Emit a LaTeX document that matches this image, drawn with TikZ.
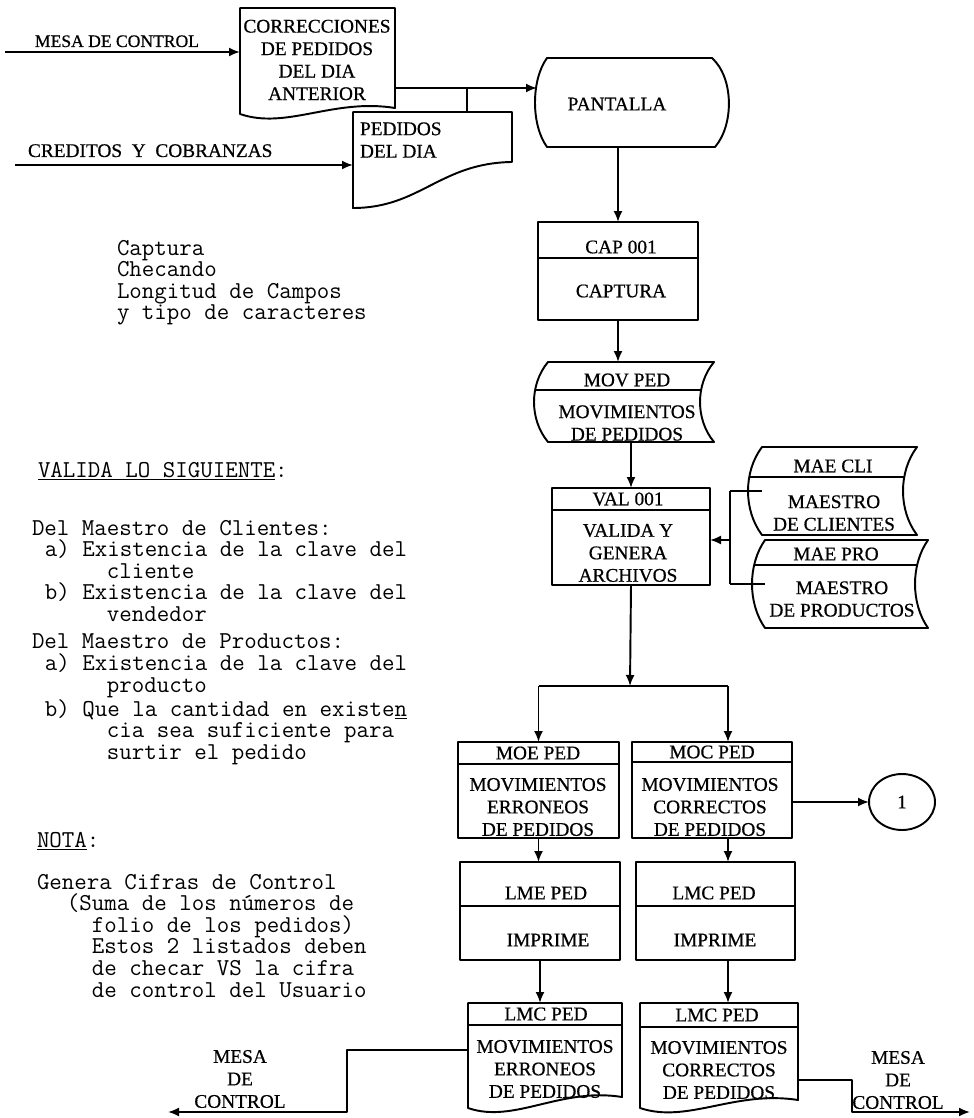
\documentclass[tikz,border=0pt]{standalone}
\usepackage{fontspec}
\setmainfont{Liberation Serif}
\usetikzlibrary{arrows.meta,calc,shapes.geometric}

\tikzset{
  every node/.style={inner sep=0pt, outer sep=0pt},
  lbl/.style={font=\fontsize{11}{12.8}\selectfont\addfontfeature{FakeBold=0.6}, align=center},
  note/.style={font=\ttfamily\fontsize{13.8}{12.3}\selectfont\addfontfeature{FakeBold=0.6}, align=left, anchor=north west},
  arr/.style={-{Latex[length=2.2mm,width=1.8mm]}},
}

% invisible rectangular node spanning a region (left, top, right, bottom)
\newcommand\RegionNode[5]{%
  \node[minimum width={(#4-#2)*0.02cm}, minimum height={(#5-#3)*0.02cm}]
    (#1) at ({(#2+#4)/2},{(#3+#5)/2}) {};%
}

% document symbol: straight top and sides, wavy foot
\newcommand\DocShape[6]{% name, left, top, right, left foot, right foot
  \RegionNode{#1}{#2}{#3}{#4}{#6}
  \draw (#2,#5) -- (#2,#3) -- (#4,#3) -- (#4,#6)
    .. controls ({#2+0.6*(#4-#2)},{#6-10}) and ({#2+0.3*(#4-#2)},{#5+16}) .. (#2,#5) -- cycle;
}

% on-line storage symbol: convex left side, concave right side, title bar
\newcommand\StoreShape[7]{% name, left, right, top, bottom, bulge, title bar
  \RegionNode{#1}{#2-#6}{#4}{#3}{#5}
  \draw (#2,#4) -- (#3,#4)
    .. controls ({#3-1.333*#6},{#4+0.28*(#5-#4)}) and ({#3-1.333*#6},{#5-0.28*(#5-#4)}) .. (#3,#5)
    -- (#2,#5)
    .. controls ({#2-1.333*#6},{#5-0.28*(#5-#4)}) and ({#2-1.333*#6},{#4+0.28*(#5-#4)}) .. (#2,#4) -- cycle;
  \begin{scope}
    \clip (#2,#4) -- (#3,#4)
      .. controls ({#3-1.333*#6},{#4+0.28*(#5-#4)}) and ({#3-1.333*#6},{#5-0.28*(#5-#4)}) .. (#3,#5)
      -- (#2,#5)
      .. controls ({#2-1.333*#6},{#5-0.28*(#5-#4)}) and ({#2-1.333*#6},{#4+0.28*(#5-#4)}) .. (#2,#4) -- cycle;
    \draw ({#2-#6-5},#7) -- ({#3+5},#7);
  \end{scope}
}

% process box with a title bar at height #6
\newcommand\ProcBox[6]{% name, left, top, right, bottom, title bar
  \node[draw, minimum width={(#4-#2)*0.02cm}, minimum height={(#5-#3)*0.02cm}]
    (#1) at ({(#2+#4)/2},{(#3+#5)/2}) {};
  \draw (#1.west |- 0,#6) -- (#1.east |- 0,#6);
}

\begin{document}
\begin{tikzpicture}[x=0.02cm, y=-0.02cm, line width=1.1pt, line join=round]

\useasboundingbox (0,0) rectangle (973,1118);

% ---------- inputs ----------
\DocShape{corr}{240}{8}{395}{114}{108}
\node[lbl] (corr-t) at (317,60) {CORRECCIONES\\DE PEDIDOS\\DEL DIA\\ANTERIOR};

\RegionNode{ped}{353}{112}{512}{162}
\draw (353,208) -- (353,112) -- (512,112) -- (512,162)
  .. controls (440,163) and (420,208) .. (353,208) -- cycle;
\node[lbl, align=left, anchor=west] (ped-t) at (360,140) {PEDIDOS\\DEL DIA};

\node[lbl, font=\fontsize{10}{12}\selectfont\addfontfeature{FakeBold=0.6}, anchor=base west] (mesa-t) at (35,47) {MESA DE CONTROL};
\coordinate (mesa-in) at (5,52);
\draw[arr] (mesa-in) -- (corr.west |- mesa-in);

\node[lbl, anchor=base west] (cred-t) at (28,157) {CREDITOS\ \ Y\ \ COBRANZAS};
\coordinate (cred-in) at (15,165);
\draw[arr] (cred-in) -- (ped.west |- cred-in);

% ---------- display ----------
\RegionNode{pant}{535}{58}{729}{147}
\draw (547,58) -- (712,58) .. controls (734,78) and (734,125) .. (715,147)
  -- (547,147) .. controls (531,125) and (531,80) .. (547,58) -- cycle;
\node[lbl] (pant-t) at (617,104) {PANTALLA};
\coordinate (pant-in) at (537,88);
\draw[arr] (corr.east |- pant-in) -- (pant-in);
\coordinate (tee) at (467,88);
\draw (tee) -- (tee |- ped.north);

% ---------- capture ----------
\ProcBox{cap}{538}{222}{698}{320}{258}
\node[lbl] (cap-h) at (621,247) {CAP 001};
\node[lbl] (cap-b) at (621,291) {CAPTURA};
\draw[arr] (cap.north |- pant.south) -- (cap.north);

\StoreShape{movped}{548}{714}{362}{442}{14}{390}
\node[lbl] (movped-h) at (627,380) {MOV PED};
\node[lbl] (movped-b) at (627,423) {MOVIMIENTOS\\DE PEDIDOS};
\draw[arr] (cap.south) -- (cap.south |- movped.north);

% ---------- validation ----------
\ProcBox{val}{552}{488}{710}{585}{510}
\node[lbl] (val-h) at (628,499) {VAL 001};
\node[lbl] (val-b) at (628,553) {VALIDA Y\\GENERA\\ARCHIVOS};
\draw[arr] (val.north |- movped.south) -- (val.north);

\StoreShape{maecli}{762}{917}{447}{535}{14}{477}
\node[lbl] (maecli-h) at (833,466) {MAE CLI};
\node[lbl] (maecli-b) at (834,513) {MAESTRO\\DE CLIENTES};

\StoreShape{maepro}{765}{928}{540}{628}{13}{565}
\node[lbl] (maepro-h) at (836,554) {MAE PRO};
\node[lbl] (maepro-b) at (842,599) {MAESTRO\\DE PRODUCTOS};

\coordinate (brk) at (730,540);
\draw[arr] (brk) -- (val.east |- brk);
\draw (brk |- maecli.west) -- (brk |- maepro.west);
\draw (brk |- maecli.west) -- (maecli.west);
\draw (brk |- maepro.west) -- (maepro.west);

% ---------- split into erroneous / correct ----------
\ProcBox{moe}{458}{742}{619}{838}{764}
\node[lbl] (moe-h) at (538,753) {MOE PED};
\node[lbl] (moe-b) at (538,807) {MOVIMIENTOS\\ERRONEOS\\DE PEDIDOS};

\ProcBox{moc}{632}{742}{792}{838}{762}
\node[lbl] (moc-h) at (712,752) {MOC PED};
\node[lbl] (moc-b) at (710,807) {MOVIMIENTOS\\CORRECTOS\\DE PEDIDOS};

\coordinate (split) at (630,686);
\coordinate (splitR) at (728,686);
\draw[arr] (val.south) -- (split);
\draw (moe.north |- split) -- (splitR);
\draw[arr] (moe.north |- split) -- (moe.north);
\draw[arr] (splitR) -- (splitR |- moc.north);

\node[draw, ellipse, minimum width=1.32cm, minimum height=1.12cm, lbl] (one) at (902,802) {1};
\draw[arr] (moc.east |- one.west) -- (one.west);

% ---------- printing ----------
\ProcBox{lme}{460}{862}{620}{960}{906}
\node[lbl] (lme-h) at (546,893) {LME PED};
\node[lbl] (lme-b) at (548,940) {IMPRIME};
\draw[arr] (moe.south) -- (moe.south |- lme.north);

\ProcBox{lmc}{636}{862}{795}{960}{906}
\node[lbl] (lmc-h) at (714,893) {LMC PED};
\node[lbl] (lmc-b) at (715,940) {IMPRIME};
\draw[arr] (splitR |- moc.south) -- (splitR |- lmc.north);

\DocShape{lmce}{468}{1003}{622}{1108}{1097}
\draw (lmce.west |- 0,1025) -- (lmce.east |- 0,1025);
\node[lbl] (lmce-h) at (546,1014) {LMC PED};
\node[lbl] (lmce-b) at (545,1069) {MOVIMIENTOS\\ERRONEOS\\DE PEDIDOS};
\draw[arr] (lme.south) -- (lme.south |- lmce.north);

\DocShape{lmcc}{640}{1003}{798}{1108}{1100}
\draw (lmcc.west |- 0,1027) -- (lmcc.east |- 0,1027);
\node[lbl] (lmcc-h) at (717,1015) {LMC PED};
\node[lbl] (lmcc-b) at (719,1070) {MOVIMIENTOS\\CORRECTOS\\DE PEDIDOS};
\draw[arr] (splitR |- lmc.south) -- (splitR |- lmcc.north);

% ---------- outputs ----------
\coordinate (kR) at (852,1080);
\coordinate (outR) at (970,1112);
\draw[arr] (lmcc.east |- kR) -- (kR) |- (outR);
\node[lbl] (mesaR-t) at (898,1080) {MESA\\DE\\CONTROL};

\coordinate (kL) at (347,1050);
\coordinate (outL) at (168,1112);
\draw[arr] (lmce.west |- kL) -- (kL) |- (outL);
\node[lbl] (mesaL-t) at (240,1079) {MESA\\DE\\CONTROL};

% ---------- notes ----------
\node[note] (n-cap) at (117,240) {Captura\\Checando\\Longitud de Campos\\y tipo de caracteres};

\node[note, anchor=base west] (n-val) at (38,477) {\underline{VALIDA LO SIGUIENTE}:};
\node[note] (n-cli) at (32,520) {Del Maestro de Clientes:\\
\hspace*{0.26cm}a) Existencia de la clave del\\
\hspace*{1.5cm}cliente\\
\hspace*{0.26cm}b) Existencia de la clave del\\
\hspace*{1.5cm}vendedor};
\node[note] (n-pro) at (32,634) {Del Maestro de Productos:\\
\hspace*{0.26cm}a) Existencia de la clave del\\
\hspace*{1.5cm}producto\\
\hspace*{0.26cm}b) Que la cantidad en existe\underline{n}\\
\hspace*{1.5cm}cia sea suficiente para\\
\hspace*{1.5cm}surtir el pedido};

\node[note, anchor=base west] (n-nota) at (37,847) {\underline{NOTA}:};
\node[note] (n-cif) at (37,874) {Genera Cifras de Control\\
\hspace*{0.6cm}(Suma de los números de\\
\hspace*{1.1cm}folio de los pedidos)\\
\hspace*{1.1cm}Estos 2 listados deben\\
\hspace*{1.1cm}de checar VS la cifra\\
\hspace*{1.1cm}de control del Usuario};

\end{tikzpicture}
\end{document}
